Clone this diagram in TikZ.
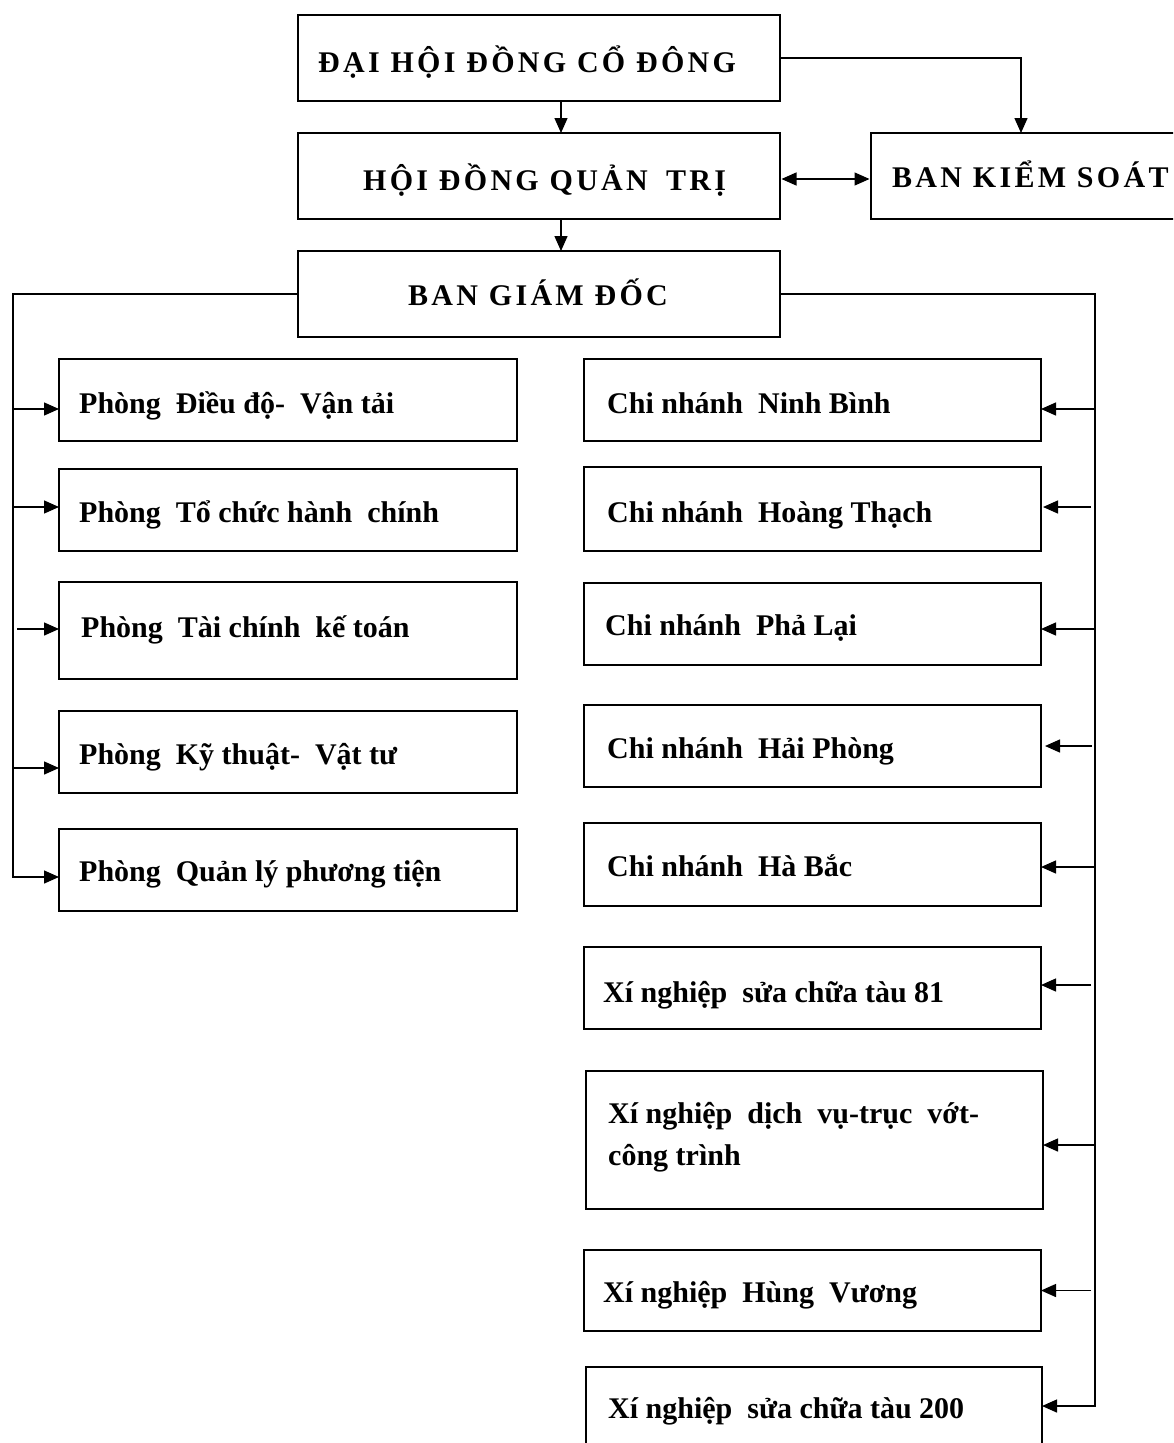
\documentclass[tikz,border=0pt]{standalone}
\usepackage{fontspec}
\setmainfont{Liberation Serif}
\newfontfamily\capfont{Liberation Serif}[LetterSpace=11]
\usetikzlibrary{arrows.meta,calc}
\newcommand\gp{\hspace{0.25em}}
\begin{document}
\begin{tikzpicture}[x=1pt,y=-1pt,
  box/.style={draw, line width=1.8pt, inner sep=0pt, outer sep=0pt, anchor=north west},
  lbl/.style={anchor=base west, inner sep=0pt, font=\fontsize{30}{36}\selectfont\bfseries},
  caplbl/.style={anchor=base west, inner sep=0pt, font=\capfont\fontsize{30}{36}\selectfont\bfseries},
  conn/.style={line width=1.4pt},
  arr/.style={conn, -{Triangle[length=15pt,width=13pt]}},
  darr/.style={conn, {Triangle[length=15pt,width=13pt]}-{Triangle[length=15pt,width=13pt]}},
]
\path[use as bounding box] (0,0) rectangle (1173,1443);
\clip (0,0) rectangle (1173,1443);

% top level
\node[box, minimum width=482pt, minimum height=86pt] (dh) at (298,15) {};
\node[caplbl] (tdh) at (318,72) {ĐẠI HỘI ĐỒNG CỔ ĐÔNG};
\node[box, minimum width=482pt, minimum height=86pt] (hd) at (298,133) {};
\node[caplbl] (thd) at (363,190) {HỘI ĐỒNG QUẢN \gp TRỊ};
\node[box, minimum width=330pt, minimum height=86pt] (bks) at (871,133) {};
\node[caplbl] (tbks) at (892,187) {BAN KIỂM SOÁT};
\node[box, minimum width=482pt, minimum height=86pt] (bgd) at (298,251) {};
\node[caplbl] (tbgd) at (408,305) {BAN GIÁM ĐỐC};

\draw[arr] ([xshift=22pt]dh.south) -- ([xshift=22pt]hd.north);
\draw[arr] ([xshift=22pt]hd.south) -- ([xshift=22pt]bgd.north);
\draw[arr] (dh.east) -| ([xshift=-15pt]bks.north);
\coordinate (h1) at ([yshift=-3pt]hd.east);
\draw[darr, shorten <=1.5pt, shorten >=1.5pt] (h1) -- (h1 -| bks.west);

% left column
\node[box, minimum width=458pt, minimum height=82pt] (p1) at (59,359) {};
\node[lbl] (tp1) at (79,413) {Phòng \gp Điều độ- \gp Vận tải};
\node[box, minimum width=458pt, minimum height=82pt] (p2) at (59,469) {};
\node[lbl] (tp2) at (79,522) {Phòng \gp Tổ chức hành \gp chính};
\node[box, minimum width=458pt, minimum height=97pt] (p3) at (59,582) {};
\node[lbl] (tp3) at (81,637) {Phòng \gp Tài chính \gp kế toán};
\node[box, minimum width=458pt, minimum height=82pt] (p4) at (59,711) {};
\node[lbl] (tp4) at (79,764) {Phòng \gp Kỹ thuật- \gp Vật tư};
\node[box, minimum width=458pt, minimum height=82pt] (p5) at (59,829) {};
\node[lbl] (tp5) at (79,881) {Phòng \gp Quản lý phương tiện};

% right column
\node[box, minimum width=457pt, minimum height=82pt] (c1) at (584,359) {};
\node[lbl] (tc1) at (607,413) {Chi nhánh \gp Ninh Bình};
\node[box, minimum width=457pt, minimum height=84pt] (c2) at (584,467) {};
\node[lbl] (tc2) at (607,522) {Chi nhánh \gp Hoàng Thạch};
\node[box, minimum width=457pt, minimum height=82pt] (c3) at (584,583) {};
\node[lbl] (tc3) at (605,635) {Chi nhánh \gp Phả Lại};
\node[box, minimum width=457pt, minimum height=82pt] (c4) at (584,705) {};
\node[lbl] (tc4) at (607,758) {Chi nhánh \gp Hải Phòng};
\node[box, minimum width=457pt, minimum height=83pt] (c5) at (584,823) {};
\node[lbl] (tc5) at (607,876) {Chi nhánh \gp Hà Bắc};
\node[box, minimum width=457pt, minimum height=82pt] (x1) at (584,947) {};
\node[lbl] (tx1) at (603,1002) {Xí nghiệp \gp sửa chữa tàu 81};
\node[box, minimum width=457pt, minimum height=138pt] (x2) at (586,1071) {};
\node[lbl] (tx2a) at (608,1123) {Xí nghiệp \gp dịch \gp vụ-trục \gp vớt-};
\node[lbl] (tx2b) at (608,1165) {công trình};
\node[box, minimum width=457pt, minimum height=81pt] (x3) at (584,1250) {};
\node[lbl] (tx3) at (603,1302) {Xí nghiệp \gp Hùng \gp Vương};
\node[box, minimum width=456pt, minimum height=100pt] (x4) at (586,1367) {};
\node[lbl] (tx4) at (608,1418) {Xí nghiệp \gp sửa chữa tàu 200};

% left bus
\coordinate (Lt) at (13,294);
\coordinate (a1) at ([yshift=-9pt]p1.west);
\coordinate (a2) at ([yshift=3pt]p2.west);
\coordinate (a3) at ([yshift=1.5pt]p3.west);
\coordinate (a4) at ([yshift=-16pt]p4.west);
\coordinate (a5) at ([yshift=-7pt]p5.west);
\draw[arr] (bgd.west) -- (Lt) |- (a5);
\draw[arr] (Lt |- a1) -- (a1);
\draw[arr] (Lt |- a2) -- (a2);
\draw[arr, shorten <=4pt] (Lt |- a3) -- (a3);
\draw[arr] (Lt |- a4) -- (a4);

% right bus
\coordinate (Rt) at (1095,294);
\coordinate (b1) at ([yshift=-9pt]c1.east);
\coordinate (b2) at ([yshift=2pt]c2.east);
\coordinate (b3) at ([yshift=-5pt]c3.east);
\coordinate (b4) at (c4.east);
\coordinate (b5) at ([yshift=-2.5pt]c5.east);
\coordinate (b6) at ([yshift=3pt]x1.east);
\coordinate (b7) at ([yshift=-5pt]x2.east);
\coordinate (b8) at (x3.east);
\coordinate (b9) at ([yshift=11pt]x4.east);
\draw[arr] (bgd.east) -- (Rt) |- (b9);
\draw[arr] (Rt |- b1) -- (b1);
\draw[arr, shorten <=4pt, shorten >=2pt] (Rt |- b2) -- (b2);
\draw[arr] (Rt |- b3) -- (b3);
\draw[arr, shorten <=3pt, shorten >=4pt] (Rt |- b4) -- (b4);
\draw[arr] (Rt |- b5) -- (b5);
\draw[arr, shorten <=4pt] (Rt |- b6) -- (b6);
\draw[arr] (Rt |- b7) -- (b7);
\draw[arr, shorten <=4pt] (Rt |- b8) -- (b8);
\end{tikzpicture}
\end{document}
